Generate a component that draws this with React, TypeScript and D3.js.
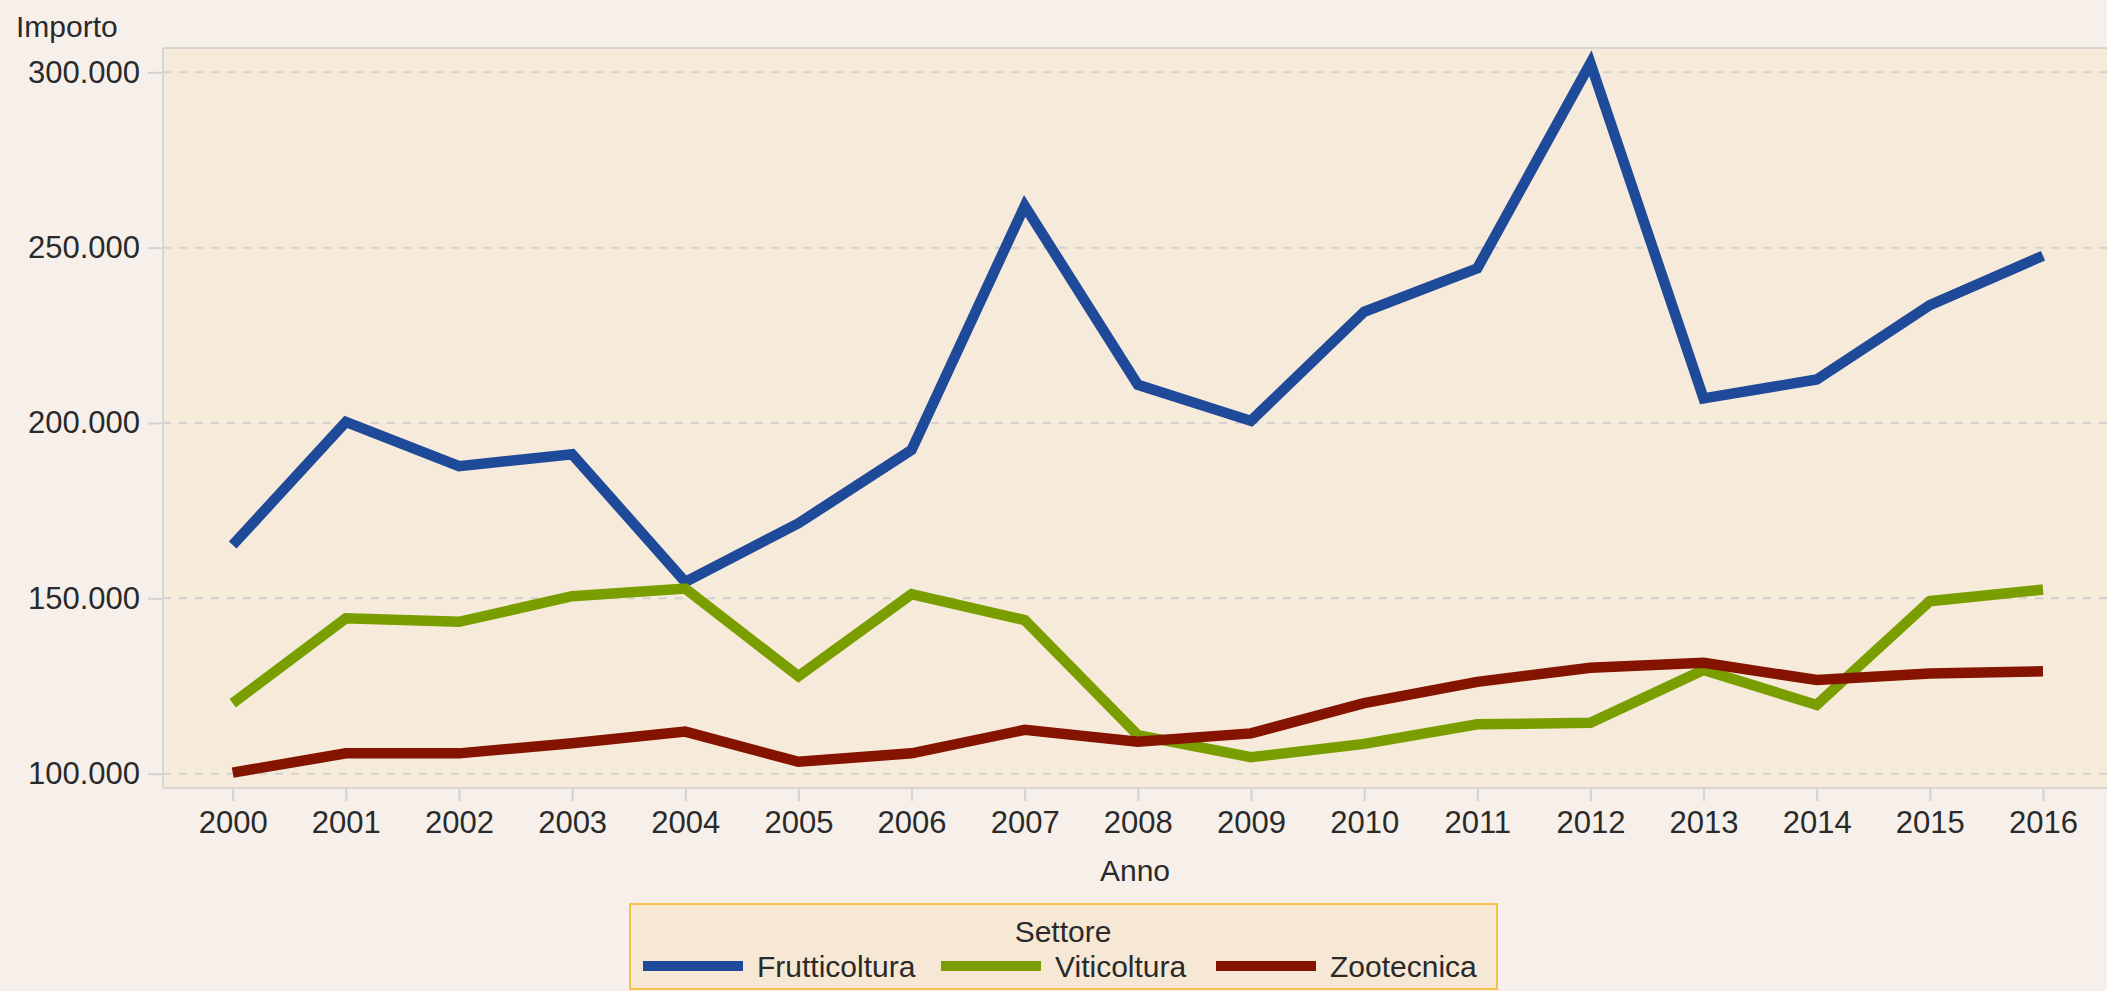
import React, { useEffect, useRef } from 'react'
import { select, scaleLinear, scalePoint, line, axisBottom, axisLeft, formatLocale } from 'd3'

const anni = ['2000', '2001', '2002', '2003', '2004', '2005', '2006', '2007', '2008', '2009', '2010', '2011', '2012', '2013', '2014', '2015', '2016']

const frutticoltura = [165200, 200300, 187700, 191100, 154700, 171400, 192300, 261900, 210900, 200600, 231700, 244100, 302600, 207000, 212400, 233600, 247700]
const viticoltura = [120100, 144300, 143300, 150600, 152800, 127800, 151200, 143800, 111000, 104700, 108500, 114100, 114500, 129600, 119600, 149200, 152500]
const zootecnica = [100300, 105800, 105800, 108700, 112000, 103400, 105800, 112500, 109100, 111500, 120100, 126200, 130200, 131600, 126700, 128600, 129200]

const yTicks = [100000, 150000, 200000, 250000, 300000]

const settori = ['Frutticoltura', 'Viticoltura', 'Zootecnica']
const colori = ['#1f4a99', '#7a9e00', '#841300']

const W = 2107
const H = 991
const FONT = '"Liberation Sans", Arial, sans-serif'

function Chart() {
  const ref = useRef(null)

  useEffect(() => {
    const svg = select(ref.current)
    svg.selectAll('*').remove()

    const plot = { left: 163, top: 48, right: W, bottom: 788 }

    const x = scalePoint().domain(anni).range([232.7, 2043])
    const y = scaleLinear().domain([100000, 300000]).range([773.7, 72.3])

    const it = formatLocale({ decimal: ',', thousands: '.', grouping: [3], currency: ['€', ''] })
    const fmt = it.format(',.0f')

    svg.append('rect').attr('width', W).attr('height', H).attr('fill', '#f7f0ea')

    // area del grafico
    svg.append('rect')
      .attr('x', plot.left).attr('y', plot.top)
      .attr('width', plot.right - plot.left).attr('height', plot.bottom - plot.top)
      .attr('fill', '#f6eadb')

    // griglia
    svg.append('g').selectAll('line').data(yTicks).enter().append('line')
      .attr('x1', plot.left).attr('x2', plot.right)
      .attr('y1', d => y(d)).attr('y2', d => y(d))
      .attr('stroke', '#d2d2d2').attr('stroke-width', 2)
      .attr('stroke-dasharray', '8,8')

    svg.append('line')
      .attr('x1', plot.left).attr('x2', plot.right)
      .attr('y1', plot.top).attr('y2', plot.top)
      .attr('stroke', '#d8d6d3').attr('stroke-width', 2)

    // asse y
    const gy = svg.append('g').attr('transform', `translate(${plot.left},0)`)
      .call(axisLeft(y).tickValues(yTicks).tickFormat(fmt).tickSize(15).tickPadding(8))
    gy.select('.domain').attr('d', `M0,${plot.top}V${plot.bottom}`).attr('stroke', '#d8d6d3').attr('stroke-width', 2)
    gy.selectAll('.tick line').attr('stroke', '#d2d2d2').attr('stroke-width', 2)
    gy.selectAll('.tick text')
      .attr('font-family', FONT).attr('font-size', 31).attr('fill', '#2a2a2a')

    // asse x
    const gx = svg.append('g').attr('transform', `translate(0,${plot.bottom})`)
      .call(axisBottom(x).tickSize(13).tickPadding(10))
    gx.select('.domain').attr('d', `M${plot.left},0H${plot.right}`).attr('stroke', '#d8d6d3').attr('stroke-width', 2)
    gx.selectAll('.tick line').attr('stroke', '#d2d2d2').attr('stroke-width', 2)
    gx.selectAll('.tick text')
      .attr('font-family', FONT).attr('font-size', 31).attr('fill', '#2a2a2a')

    svg.append('text').text('Importo')
      .attr('x', 16).attr('y', 37)
      .attr('font-family', FONT).attr('font-size', 30).attr('fill', '#2a2a2a')

    svg.append('text').text('Anno')
      .attr('x', (plot.left + plot.right) / 2).attr('y', 881)
      .attr('text-anchor', 'middle')
      .attr('font-family', FONT).attr('font-size', 30).attr('fill', '#2a2a2a')

    // linee
    const serie = [frutticoltura, viticoltura, zootecnica]
    const gen = line().x((d, i) => x(anni[i])).y(d => y(d))
    serie.forEach((s, k) => {
      svg.append('path')
        .attr('d', gen(s))
        .attr('fill', 'none')
        .attr('stroke', colori[k])
        .attr('stroke-width', 10.5)
        .attr('stroke-linejoin', 'miter')
    })

    // legenda
    const leg = svg.append('g')
    leg.append('rect')
      .attr('x', 630).attr('y', 904).attr('width', 867).attr('height', 85)
      .attr('fill', '#f6e8d4').attr('stroke', '#f5c34d').attr('stroke-width', 2)
    leg.append('text').text('Settore')
      .attr('x', 1063).attr('y', 942).attr('text-anchor', 'middle')
      .attr('font-family', FONT).attr('font-size', 30).attr('fill', '#2a2a2a')
    const legX = [643, 941, 1216]
    settori.forEach((s, k) => {
      leg.append('line')
        .attr('x1', legX[k]).attr('x2', legX[k] + 100)
        .attr('y1', 966).attr('y2', 966)
        .attr('stroke', colori[k]).attr('stroke-width', 10)
      leg.append('text').text(s)
        .attr('x', legX[k] + 114).attr('y', 977)
        .attr('font-family', FONT).attr('font-size', 30).attr('fill', '#2a2a2a')
    })
  }, [])

  return <svg ref={ref} width={W} height={H} style={{ position: 'absolute', left: 0, top: 0 }}></svg>
}

export default function App() {
  return <Chart />
}
